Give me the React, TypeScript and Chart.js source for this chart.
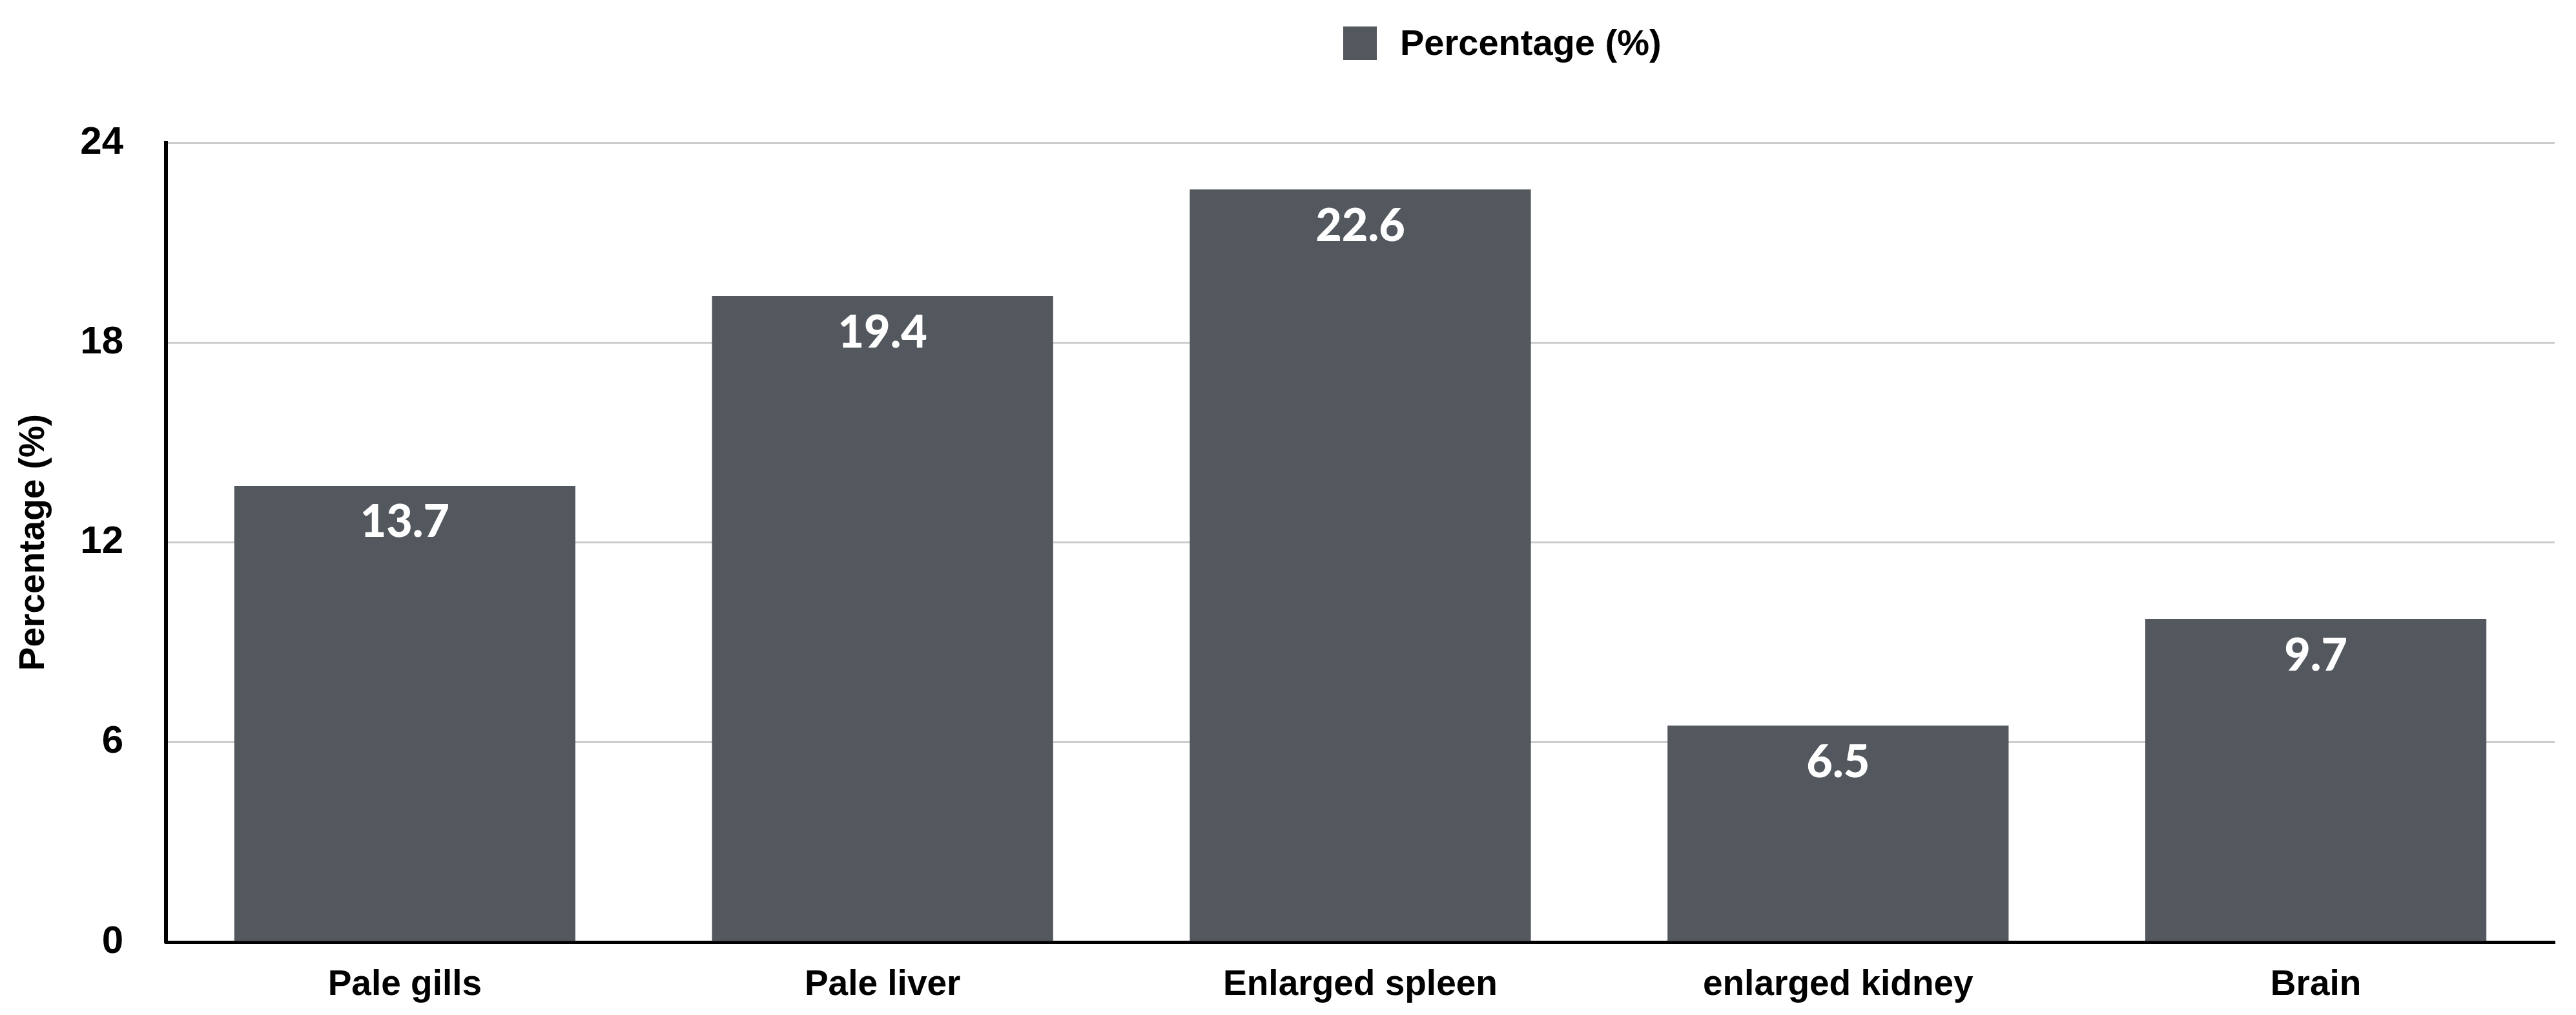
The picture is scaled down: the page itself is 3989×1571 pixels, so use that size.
import React, { useEffect, useRef } from "react";
import { Chart, registerables } from "chart.js";

Chart.register(...registerables);

// ---- data ----
const categories = ["Pale gills", "Pale liver", "Enlarged spleen", "enlarged kidney", "Brain"];
const percentages = [13.7, 19.4, 22.6, 6.5, 9.7];
const seriesLabel = "Percentage (%)";
const yTicks = [0, 6, 12, 18, 24];
const yAxisTitle = "Percentage (%)";

// ---- style ----
const W = 3989;
const H = 1571;
const BAR_COLOR = "#53575e";
const SANS = "'Liberation Sans', Arial, Helvetica, sans-serif";
const VALUE_FONT = "Lato, 'Open Sans', sans-serif";

const legendPlugin = {
  id: "customLegend",
  afterDraw(chart: any) {
    const ctx = chart.ctx;
    const ds = chart.data.datasets[0];
    ctx.save();
    ctx.fillStyle = ds.backgroundColor;
    ctx.fillRect(2080, 41, 52, 52);
    ctx.fillStyle = "#000";
    ctx.font = `bold 56px ${SANS}`;
    ctx.textAlign = "left";
    ctx.textBaseline = "middle";
    ctx.fillText(ds.label, 2168, 70);
    ctx.restore();
  },
};

const valueLabelPlugin = {
  id: "valueLabels",
  afterDatasetsDraw(chart: any) {
    const ctx = chart.ctx;
    const meta = chart.getDatasetMeta(0);
    const data = chart.data.datasets[0].data as number[];
    ctx.save();
    ctx.fillStyle = "#ffffff";
    ctx.font = `900 70px ${VALUE_FONT}`;
    ctx.textAlign = "center";
    ctx.textBaseline = "middle";
    meta.data.forEach((bar: any, i: number) => {
      ctx.fillText(data[i].toFixed(1), bar.x, bar.y + 57);
    });
    ctx.restore();
  },
};

export default function App() {
  const canvasRef = useRef<HTMLCanvasElement | null>(null);

  useEffect(() => {
    if (!canvasRef.current) return;
    const chart = new Chart(canvasRef.current, {
      type: "bar",
      data: {
        labels: categories,
        datasets: [
          {
            label: seriesLabel,
            data: percentages,
            backgroundColor: BAR_COLOR,
            borderWidth: 0,
            categoryPercentage: 1,
            barPercentage: 0.714,
          },
        ],
      },
      plugins: [legendPlugin, valueLabelPlugin],
      options: {
        animation: false,
        responsive: true,
        maintainAspectRatio: false,
        devicePixelRatio: 1,
        layout: { padding: { top: 221, right: 33, bottom: 0, left: 0 } },
        plugins: {
          legend: { display: false },
          tooltip: { enabled: false },
        },
        scales: {
          x: {
            grid: { display: false, drawTicks: false },
            border: { display: true, color: "#000", width: 5 },
            ticks: {
              color: "#000",
              padding: 34,
              font: { family: SANS, size: 55, weight: "bold" },
            },
            afterFit: (scale: any) => {
              scale.height = 113;
            },
          },
          y: {
            min: 0,
            max: 24,
            afterBuildTicks: (scale: any) => {
              scale.ticks = yTicks.map((v) => ({ value: v }));
            },
            grid: { color: "#cccccc", lineWidth: 3, drawTicks: false },
            border: { display: true, color: "#000", width: 6 },
            ticks: {
              color: "#000",
              padding: 66,
              font: { family: SANS, size: 60, weight: "bold" },
            },
            title: {
              display: true,
              text: yAxisTitle,
              color: "#000",
              padding: { top: 20, bottom: 0 },
              font: { family: SANS, size: 55, weight: "bold", lineHeight: 1.2 },
            },
            afterFit: (scale: any) => {
              scale.width = 257;
            },
          },
        },
      },
    });
    return () => chart.destroy();
  }, []);

  return (
    <div style={{ position: "fixed", left: 0, top: 0, width: `${W}px`, height: `${H}px`, background: "#fff" }}>
      <canvas ref={canvasRef} />
    </div>
  );
}
